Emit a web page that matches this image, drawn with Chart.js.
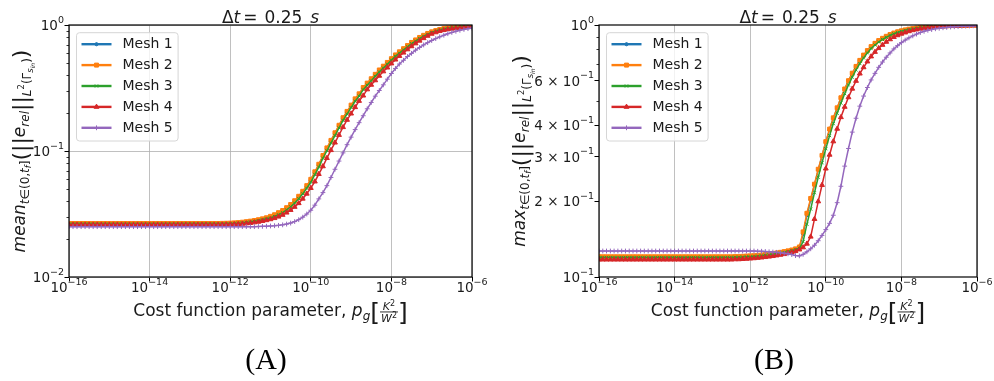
<!DOCTYPE html>
<html>
<head>
<meta charset="utf-8">
<script src="https://cdn.jsdelivr.net/npm/chart.js@4.4.1/dist/chart.umd.min.js"></script>
<style>
  body { margin: 0; background: #fff; width: 994px; height: 381px; overflow: hidden; position: relative; }
  .wrap { position: absolute; top: 0; width: 497px; height: 381px; }
  .lab { position: absolute; top: 344px; width: 200px; text-align: center; font-family: "Liberation Serif"; font-size: 30px; line-height: 30px; color: #000; }
</style>
</head>
<body>
<div class="wrap" style="left:0"><canvas id="chartA"></canvas></div>
<div class="wrap" style="left:497px"><canvas id="chartB"></canvas></div>
<div class="lab" style="left:166px">(A)</div>
<div class="lab" style="left:674px">(B)</div>
<script>
// cost function parameter p_g (x), 10 points per decade
const pg = [
  1e-16, 1.26e-16, 1.58e-16, 2e-16, 2.51e-16, 3.16e-16, 3.98e-16, 5.01e-16, 6.31e-16, 7.94e-16,
  1e-15, 1.26e-15, 1.58e-15, 2e-15, 2.51e-15, 3.16e-15, 3.98e-15, 5.01e-15, 6.31e-15, 7.94e-15,
  1e-14, 1.26e-14, 1.58e-14, 2e-14, 2.51e-14, 3.16e-14, 3.98e-14, 5.01e-14, 6.31e-14, 7.94e-14,
  1e-13, 1.26e-13, 1.58e-13, 2e-13, 2.51e-13, 3.16e-13, 3.98e-13, 5.01e-13, 6.31e-13, 7.94e-13,
  1e-12, 1.26e-12, 1.58e-12, 2e-12, 2.51e-12, 3.16e-12, 3.98e-12, 5.01e-12, 6.31e-12, 7.94e-12,
  1e-11, 1.26e-11, 1.58e-11, 2e-11, 2.51e-11, 3.16e-11, 3.98e-11, 5.01e-11, 6.31e-11, 7.94e-11,
  1e-10, 1.26e-10, 1.58e-10, 2e-10, 2.51e-10, 3.16e-10, 3.98e-10, 5.01e-10, 6.31e-10, 7.94e-10,
  1e-9, 1.26e-9, 1.58e-9, 2e-9, 2.51e-9, 3.16e-9, 3.98e-9, 5.01e-9, 6.31e-9, 7.94e-9,
  1e-8, 1.26e-8, 1.58e-8, 2e-8, 2.51e-8, 3.16e-8, 3.98e-8, 5.01e-8, 6.31e-8, 7.94e-8,
  1e-7, 1.26e-7, 1.58e-7, 2e-7, 2.51e-7, 3.16e-7, 3.98e-7, 5.01e-7, 6.31e-7, 7.94e-7,
  1e-6
];

const meshNames = ['Mesh 1', 'Mesh 2', 'Mesh 3', 'Mesh 4', 'Mesh 5'];

// tick values and labels as [mantissa text, exponent]
const xTicks = [1e-16, 1e-14, 1e-12, 1e-10, 1e-8, 1e-6];
const xTickLabels = [['10', '−16'], ['10', '−14'], ['10', '−12'], ['10', '−10'], ['10', '−8'], ['10', '−6']];
const yTicksA = [0.01, 0.1, 1];
const yTickLabelsA = [['10', '−2'], ['10', '−1'], ['10', '0']];
const yMinorA = [0.02, 0.03, 0.04, 0.05, 0.06, 0.07, 0.08, 0.09, 0.2, 0.3, 0.4, 0.5, 0.6, 0.7, 0.8, 0.9];
const yTicksB = [0.1, 0.2, 0.3, 0.4, 0.6, 1];
const yTickLabelsB = [['10', '−1'], ['2 × 10', '−1'], ['3 × 10', '−1'], ['4 × 10', '−1'], ['6 × 10', '−1'], ['10', '0']];
const yMinorB = [0.5, 0.7, 0.8, 0.9];

// (A) mean over time of the relative error
const meanMesh1 = [
  0.0265, 0.0265, 0.0265, 0.0265, 0.0265, 0.0265, 0.0265, 0.0265, 0.0265, 0.0265,
  0.0265, 0.0265, 0.0265, 0.0265, 0.0265, 0.0265, 0.0265, 0.0265, 0.0265, 0.0265,
  0.0265, 0.0265, 0.0265, 0.0265, 0.0265, 0.0265, 0.0265, 0.0265, 0.0265, 0.0265,
  0.0265, 0.0265, 0.0265, 0.0265, 0.0265, 0.0265, 0.0265, 0.0265, 0.02655, 0.02661,
  0.02667, 0.02679, 0.02692, 0.0271, 0.02735, 0.02761, 0.02793, 0.02831, 0.02877, 0.02931,
  0.03, 0.0309, 0.032, 0.0333, 0.0351, 0.0372, 0.0398, 0.0432, 0.0473, 0.0525,
  0.0589, 0.0676, 0.0776, 0.0912, 0.1047, 0.1202, 0.138, 0.1585, 0.182, 0.2042,
  0.2291, 0.257, 0.2818, 0.3162, 0.3428, 0.3715, 0.4027, 0.4365, 0.4677, 0.5012,
  0.537, 0.5754, 0.6095, 0.6457, 0.6839, 0.7244, 0.7586, 0.7943, 0.826, 0.8551,
  0.881, 0.9016, 0.9204, 0.9354, 0.9462, 0.955, 0.9616, 0.9661, 0.9705, 0.9727,
  0.975
];
const meanMesh2 = [
  0.0266, 0.0266, 0.0266, 0.0266, 0.0266, 0.0266, 0.0266, 0.0266, 0.0266, 0.0266,
  0.0266, 0.0266, 0.0266, 0.0266, 0.0266, 0.0266, 0.0266, 0.0266, 0.0266, 0.0266,
  0.0266, 0.0266, 0.0266, 0.0266, 0.0266, 0.0266, 0.0266, 0.0266, 0.0266, 0.0266,
  0.0266, 0.0266, 0.0266, 0.0266, 0.0266, 0.0266, 0.0266, 0.0266, 0.02665, 0.0267,
  0.02677, 0.02689, 0.02703, 0.02722, 0.02748, 0.02775, 0.02808, 0.02848, 0.02896, 0.02953,
  0.0303, 0.0312, 0.0324, 0.0337, 0.0355, 0.0376, 0.0403, 0.0437, 0.0479, 0.0531,
  0.0596, 0.0684, 0.0785, 0.0921, 0.1058, 0.1214, 0.1395, 0.16, 0.1838, 0.2062,
  0.2313, 0.2594, 0.2844, 0.319, 0.3458, 0.3746, 0.4059, 0.4398, 0.4711, 0.5046,
  0.5404, 0.5788, 0.6128, 0.6489, 0.6869, 0.7272, 0.7612, 0.7967, 0.8281, 0.8569,
  0.8826, 0.9029, 0.9214, 0.9362, 0.9468, 0.9555, 0.962, 0.9664, 0.9707, 0.9729,
  0.9752
];
const meanMesh3 = [
  0.0263, 0.0263, 0.0263, 0.0263, 0.0263, 0.0263, 0.0263, 0.0263, 0.0263, 0.0263,
  0.0263, 0.0263, 0.0263, 0.0263, 0.0263, 0.0263, 0.0263, 0.0263, 0.0263, 0.0263,
  0.0263, 0.0263, 0.0263, 0.0263, 0.0263, 0.0263, 0.0263, 0.0263, 0.0263, 0.0263,
  0.0263, 0.0263, 0.0263, 0.0263, 0.0263, 0.0263, 0.0263, 0.0263, 0.02634, 0.02638,
  0.02648, 0.02659, 0.02672, 0.02688, 0.0271, 0.02735, 0.02764, 0.02799, 0.02843, 0.02894,
  0.0294, 0.0302, 0.0312, 0.0324, 0.0341, 0.0361, 0.0386, 0.0418, 0.0457, 0.0506,
  0.0565, 0.0649, 0.0745, 0.0876, 0.1005, 0.1154, 0.1325, 0.1522, 0.1747, 0.196,
  0.2211, 0.2483, 0.2727, 0.3065, 0.3327, 0.3607, 0.3913, 0.4245, 0.4555, 0.4887,
  0.5263, 0.5643, 0.598, 0.6339, 0.6719, 0.7121, 0.7458, 0.7816, 0.8136, 0.8431,
  0.8722, 0.8935, 0.913, 0.9289, 0.9405, 0.9503, 0.9574, 0.9625, 0.9675, 0.9702,
  0.9728
];
const meanMesh4 = [
  0.026, 0.026, 0.026, 0.026, 0.026, 0.026, 0.026, 0.026, 0.026, 0.026,
  0.026, 0.026, 0.026, 0.026, 0.026, 0.026, 0.026, 0.026, 0.026, 0.026,
  0.026, 0.026, 0.026, 0.026, 0.026, 0.026, 0.026, 0.026, 0.026, 0.026,
  0.026, 0.026, 0.026, 0.026, 0.026, 0.026, 0.026, 0.026, 0.02603, 0.02607,
  0.02612, 0.02618, 0.02628, 0.0264, 0.0266, 0.0268, 0.0271, 0.0274, 0.0278, 0.0282,
  0.0287, 0.0293, 0.0301, 0.0311, 0.0324, 0.034, 0.036, 0.0385, 0.0418, 0.0458,
  0.0508, 0.0572, 0.0656, 0.0755, 0.0878, 0.1015, 0.1165, 0.134, 0.1545, 0.1765,
  0.198, 0.2225, 0.2495, 0.275, 0.308, 0.335, 0.3635, 0.395, 0.428, 0.459,
  0.495, 0.531, 0.567, 0.603, 0.64, 0.677, 0.714, 0.75, 0.785, 0.82,
  0.851, 0.874, 0.894, 0.91, 0.923, 0.934, 0.943, 0.95, 0.956, 0.961,
  0.966
];
const meanMesh5 = [
  0.0251, 0.0251, 0.0251, 0.0251, 0.0251, 0.0251, 0.0251, 0.0251, 0.0251, 0.0251,
  0.0251, 0.0251, 0.0251, 0.0251, 0.0251, 0.0251, 0.0251, 0.0251, 0.0251, 0.0251,
  0.0251, 0.0251, 0.0251, 0.0251, 0.0251, 0.0251, 0.0251, 0.0251, 0.0251, 0.0251,
  0.0251, 0.0251, 0.0251, 0.0251, 0.0251, 0.0251, 0.0251, 0.0251, 0.0251, 0.0251,
  0.0251, 0.0251, 0.0251, 0.0251, 0.0251, 0.0251, 0.0251, 0.02518, 0.02524, 0.0253,
  0.02541, 0.02553, 0.0257, 0.02594, 0.0263, 0.02679, 0.02754, 0.02851, 0.02985, 0.03162,
  0.03388, 0.03715, 0.04169, 0.04677, 0.05309, 0.06166, 0.07161, 0.08318, 0.09661, 0.1122,
  0.1288, 0.1479, 0.1679, 0.1905, 0.2163, 0.2427, 0.2723, 0.302, 0.335, 0.3715,
  0.4121, 0.4519, 0.4898, 0.5248, 0.5623, 0.5957, 0.631, 0.6637, 0.695, 0.7244,
  0.7534, 0.7798, 0.8054, 0.8299, 0.8531, 0.873, 0.8913, 0.9078, 0.9226, 0.9354,
  0.9462
];

// (B) max over time of the relative error
const maxMesh1 = [
  0.12, 0.12, 0.12, 0.12, 0.12, 0.12, 0.12, 0.12, 0.12, 0.12,
  0.12, 0.12, 0.12, 0.12, 0.12, 0.12, 0.12, 0.12, 0.12, 0.12,
  0.12, 0.12, 0.12, 0.12, 0.12, 0.12, 0.12, 0.12, 0.12, 0.12,
  0.12, 0.12, 0.12, 0.12, 0.12, 0.12, 0.1202, 0.1202, 0.1205, 0.1208,
  0.121, 0.1212, 0.1216, 0.122, 0.1225, 0.123, 0.1236, 0.1243, 0.125, 0.1258,
  0.1267, 0.1277, 0.1289, 0.131, 0.148, 0.176, 0.2025, 0.2317, 0.2661, 0.302,
  0.3428, 0.3846, 0.4266, 0.4677, 0.5129, 0.5559, 0.5998, 0.6427, 0.6839, 0.7228,
  0.7586, 0.7907, 0.8204, 0.8453, 0.867, 0.8851, 0.9016, 0.9162, 0.929, 0.9397,
  0.9484, 0.9561, 0.9627, 0.9683, 0.9728, 0.9772, 0.9806, 0.984, 0.9863, 0.9886,
  0.9908, 0.992, 0.9931, 0.9943, 0.9954, 0.9959, 0.9966, 0.9972, 0.9977, 0.9982,
  0.9986
];
const maxMesh2 = [
  0.1203, 0.1203, 0.1203, 0.1203, 0.1203, 0.1203, 0.1203, 0.1203, 0.1203, 0.1203,
  0.1203, 0.1203, 0.1203, 0.1203, 0.1203, 0.1203, 0.1203, 0.1203, 0.1203, 0.1203,
  0.1203, 0.1203, 0.1203, 0.1203, 0.1203, 0.1203, 0.1203, 0.1203, 0.1203, 0.1203,
  0.1203, 0.1203, 0.1203, 0.1203, 0.1203, 0.1203, 0.1205, 0.1205, 0.1208, 0.1211,
  0.1213, 0.1215, 0.1219, 0.1223, 0.1228, 0.1233, 0.1239, 0.1246, 0.1253, 0.1261,
  0.127, 0.128, 0.1293, 0.1316, 0.151, 0.179, 0.205, 0.2335, 0.2677, 0.3037,
  0.3445, 0.3863, 0.4283, 0.4693, 0.5145, 0.5574, 0.6012, 0.644, 0.685, 0.7238,
  0.7595, 0.7915, 0.821, 0.8458, 0.8674, 0.8855, 0.9019, 0.9165, 0.9292, 0.9399,
  0.9486, 0.9562, 0.9628, 0.9684, 0.9729, 0.9773, 0.9807, 0.984, 0.9863, 0.9886,
  0.9908, 0.992, 0.9931, 0.9943, 0.9954, 0.9959, 0.9966, 0.9972, 0.9977, 0.9982,
  0.9986
];
const maxMesh3 = [
  0.1195, 0.1195, 0.1195, 0.1195, 0.1195, 0.1195, 0.1195, 0.1195, 0.1195, 0.1195,
  0.1195, 0.1195, 0.1195, 0.1195, 0.1195, 0.1195, 0.1195, 0.1195, 0.1195, 0.1195,
  0.1195, 0.1195, 0.1195, 0.1195, 0.1195, 0.1195, 0.1195, 0.1195, 0.1195, 0.1195,
  0.1195, 0.1195, 0.1195, 0.1195, 0.1195, 0.1195, 0.1197, 0.1198, 0.12, 0.1202,
  0.1203, 0.1206, 0.121, 0.1214, 0.1219, 0.1224, 0.123, 0.1237, 0.1244, 0.1252,
  0.1261, 0.1271, 0.1283, 0.13, 0.138, 0.162, 0.186, 0.216, 0.249, 0.284,
  0.323, 0.364, 0.406, 0.447, 0.49, 0.534, 0.578, 0.621, 0.663, 0.703,
  0.74, 0.775, 0.806, 0.833, 0.856, 0.876, 0.893, 0.909, 0.923, 0.934,
  0.944, 0.952, 0.959, 0.965, 0.97, 0.975, 0.979, 0.982, 0.985, 0.987,
  0.989, 0.9905, 0.992, 0.9932, 0.9943, 0.9952, 0.996, 0.9967, 0.9973, 0.9978,
  0.9983
];
const maxMesh4 = [
  0.1172, 0.1172, 0.1172, 0.1172, 0.1172, 0.1172, 0.1172, 0.1172, 0.1172, 0.1172,
  0.1172, 0.1172, 0.1172, 0.1172, 0.1172, 0.1172, 0.1172, 0.1172, 0.1172, 0.1172,
  0.1172, 0.1172, 0.1172, 0.1172, 0.1172, 0.1172, 0.1172, 0.1172, 0.1172, 0.1172,
  0.1172, 0.1172, 0.1172, 0.1172, 0.1172, 0.1172, 0.1175, 0.1175, 0.1178, 0.118,
  0.1183, 0.1186, 0.119, 0.1194, 0.1199, 0.1204, 0.121, 0.1217, 0.1224, 0.1232,
  0.1245, 0.1255, 0.1266, 0.1285, 0.131, 0.1355, 0.1445, 0.1698, 0.1995, 0.2317,
  0.2692, 0.3055, 0.3451, 0.3873, 0.4305, 0.4732, 0.5164, 0.5585, 0.5998, 0.6412,
  0.6792, 0.7161, 0.7499, 0.7816, 0.8091, 0.8337, 0.857, 0.877, 0.8954, 0.9099,
  0.9226, 0.9333, 0.9441, 0.9528, 0.9594, 0.9661, 0.9705, 0.975, 0.9795, 0.9824,
  0.9849, 0.9872, 0.989, 0.9906, 0.992, 0.9931, 0.9943, 0.9952, 0.9959, 0.9966,
  0.9972
];
const maxMesh5 = [
  0.1268, 0.1268, 0.1268, 0.1268, 0.1268, 0.1268, 0.1268, 0.1268, 0.1268, 0.1268,
  0.1268, 0.1268, 0.1268, 0.1268, 0.1268, 0.1268, 0.1268, 0.1268, 0.1268, 0.1268,
  0.1268, 0.1268, 0.1268, 0.1268, 0.1268, 0.1268, 0.1268, 0.1268, 0.1268, 0.1268,
  0.1268, 0.1268, 0.1268, 0.1268, 0.1268, 0.1268, 0.1268, 0.1268, 0.1268, 0.1268,
  0.1268, 0.1268, 0.1265, 0.1265, 0.1262, 0.1259, 0.1256, 0.1253, 0.1247, 0.1242,
  0.1236, 0.1227, 0.1216, 0.1213, 0.123, 0.1259, 0.1294, 0.1337, 0.1393, 0.1462,
  0.1542, 0.1633, 0.1758, 0.1972, 0.2291, 0.2754, 0.3236, 0.3758, 0.4266, 0.4764,
  0.5224, 0.5649, 0.6053, 0.6427, 0.6792, 0.7129, 0.7447, 0.7745, 0.8035, 0.8279,
  0.8511, 0.871, 0.8892, 0.9057, 0.9205, 0.9333, 0.9441, 0.9528, 0.9594, 0.9661,
  0.9705, 0.975, 0.9784, 0.9818, 0.984, 0.9863, 0.9886, 0.9902, 0.9915, 0.9927,
  0.9938
];

const colors = ['#1f77b4', '#ff7f0e', '#2ca02c', '#d62728', '#9467bd'];
const markers = ['circle', 'rect', 'crossRot', 'triangle', 'cross'];
const markerSize = [1.6, 2.8, 2.2, 2.8, 2.4];
const FONT = '"DejaVu Sans"';
const INK = '#1a1a1a';

function font(p) {
  return (p.i ? 'italic ' : '') + p.s + 'px ' + FONT;
}

// draws a run of text pieces (sub/superscripts, fractions); align 'center' or 'right'
function rich(ctx, parts, x, y, align) {
  let total = 0;
  parts.forEach(p => {
    if (p.gap) { p.w = p.gap; }
    else if (p.num) {
      let wn = 0, wd = 0;
      p.num.forEach(q => { ctx.font = font(q); q.w = ctx.measureText(q.t).width; wn += q.w; });
      p.den.forEach(q => { ctx.font = font(q); q.w = ctx.measureText(q.t).width; wd += q.w; });
      p.wn = wn; p.wd = wd; p.w = Math.max(wn, wd) + 2;
    } else { ctx.font = font(p); p.w = ctx.measureText(p.t).width; }
    total += p.w;
  });
  let cx = align === 'right' ? x - total : x - total / 2;
  ctx.textBaseline = 'alphabetic';
  ctx.textAlign = 'left';
  parts.forEach(p => {
    if (p.num) {
      const by = y + p.bar;
      ctx.fillRect(cx, by - 0.5, p.w, 0.9);
      let nx = cx + (p.w - p.wn) / 2;
      p.num.forEach(q => { ctx.font = font(q); ctx.fillText(q.t, nx, by - 2 + (q.dy || 0)); nx += q.w; });
      let dx = cx + (p.w - p.wd) / 2;
      p.den.forEach(q => { ctx.font = font(q); ctx.fillText(q.t, dx, by + 9.5 + (q.dy || 0)); dx += q.w; });
    } else if (!p.gap) {
      ctx.font = font(p);
      ctx.fillText(p.t, cx, y + (p.dy || 0));
    }
    cx += p.w;
  });
}

function powParts(lab) {
  return [{t: lab[0], s: 13.5}, {t: lab[1], s: 9.5, dy: -7.5}];
}

function yTitle(op) {
  return [
    {t: op, s: 17, i: 1},
    {t: 't', s: 12, i: 1, dy: 4}, {t: '∈(0,', s: 12, dy: 4}, {t: 't', s: 12, i: 1, dy: 4},
    {t: 'f', s: 8.5, i: 1, dy: 6}, {t: ']', s: 12, dy: 4},
    {t: '(', s: 22, dy: 3}, {t: '||', s: 22, dy: 3},
    {t: 'e', s: 17, i: 1}, {t: 'rel', s: 12, i: 1, dy: 4},
    {t: '||', s: 22, dy: 3},
    {t: 'L', s: 12, i: 1, dy: 6}, {t: '2', s: 8.5, dy: -1}, {t: '(Γ', s: 12, dy: 6},
    {t: 's', s: 8.5, i: 1, dy: 8}, {t: 'in', s: 6, i: 1, dy: 10}, {t: ')', s: 12, dy: 6},
    {t: ')', s: 22, dy: 3}
  ];
}

const xTitle = [
  {t: 'Cost function parameter, ', s: 17}, {t: 'p', s: 17, i: 1}, {t: 'g', s: 12, i: 1, dy: 4},
  {t: '[', s: 25, dy: 4.5},
  {num: [{t: 'K', s: 11, i: 1}, {t: '2', s: 8, dy: -4}], den: [{t: 'W', s: 11, i: 1}, {t: '2', s: 8, dy: -4}], bar: -4},
  {t: ']', s: 25, dy: 4.5}
];

const title = [
  {t: 'Δ', s: 17}, {t: 't', s: 17, i: 1}, {gap: 3}, {t: '=', s: 17}, {gap: 7},
  {t: '0.25', s: 17}, {gap: 8}, {t: 's', s: 17, i: 1}
];

function decoPlugin(yLabelParts, yLabelX, yTicks, yLabels, yMinor) {
  return {
    id: 'deco',
    afterDraw(chart) {
      const ctx = chart.ctx;
      const a = chart.chartArea;
      const xs = chart.scales.x;
      const ys = chart.scales.y;
      ctx.save();
      // minor y ticks
      ctx.strokeStyle = '#000';
      ctx.lineWidth = 0.8;
      yMinor.forEach(v => {
        const py = Math.round(ys.getPixelForValue(v)) + 0.5;
        ctx.beginPath(); ctx.moveTo(a.left - 2.5, py); ctx.lineTo(a.left, py); ctx.stroke();
      });
      // frame
      ctx.lineWidth = 1.2;
      ctx.strokeRect(a.left, a.top, a.right - a.left, a.bottom - a.top);
      ctx.fillStyle = INK;
      // tick labels with real superscripts
      xTicks.forEach((v, i) => rich(ctx, powParts(xTickLabels[i]), xs.getPixelForValue(v), a.bottom + 15, 'center'));
      yTicks.forEach((v, i) => rich(ctx, powParts(yLabels[i]), a.left - 5, ys.getPixelForValue(v) + 5, 'right'));
      // title and axis titles
      rich(ctx, title, (a.left + a.right) / 2, 22.5, 'center');
      rich(ctx, xTitle, (a.left + a.right) / 2, 316, 'center');
      ctx.save();
      ctx.translate(yLabelX, (a.top + a.bottom) / 2);
      ctx.rotate(-Math.PI / 2);
      rich(ctx, yLabelParts, 0, 0, 'center');
      ctx.restore();
      // legend
      const lx = a.left + 7.5, ly = a.top + 7.7, lw = 101.6, lh = 108.3;
      ctx.fillStyle = 'rgba(255,255,255,0.8)';
      ctx.strokeStyle = '#d6d6d6';
      ctx.lineWidth = 1;
      ctx.beginPath();
      ctx.roundRect(lx, ly, lw, lh, 3);
      ctx.fill(); ctx.stroke();
      chart.data.datasets.forEach((ds, i) => {
        const ry = ly + 11.5 + i * 20.9;
        ctx.strokeStyle = ds.borderColor;
        ctx.lineWidth = 2.4;
        ctx.beginPath(); ctx.moveTo(lx + 5, ry); ctx.lineTo(lx + 35, ry); ctx.stroke();
        ctx.fillStyle = ds.borderColor;
        if (Chart.helpers && Chart.helpers.drawPoint) {
          ctx.lineWidth = 1;
          Chart.helpers.drawPoint(ctx, {pointStyle: ds.pointStyle, radius: ds.pointRadius, rotation: 0, borderWidth: 1}, lx + 20, ry);
        }
        ctx.fillStyle = INK;
        ctx.font = '14px ' + FONT;
        ctx.textBaseline = 'middle';
        ctx.textAlign = 'left';
        ctx.fillText(ds.label, lx + 46, ry + 0.5);
      });
      ctx.restore();
    }
  };
}

function datasets(series) {
  return series.map((s, i) => ({
    label: meshNames[i],
    data: pg.map((x, k) => ({x: x, y: s[k]})),
    borderColor: colors[i],
    backgroundColor: colors[i],
    borderWidth: 1.5,
    pointStyle: markers[i],
    pointRadius: markerSize[i],
    pointBorderWidth: 1,
    tension: 0,
    order: 4 - i
  }));
}

function build(id, series, yMin, yTicks, yLabels, yMinor, yGridColor, yWidth, padRight, op, yLabelX) {
  return new Chart(document.getElementById(id), {
    type: 'line',
    data: {datasets: datasets(series)},
    options: {
      responsive: true,
      maintainAspectRatio: false,
      animation: false,
      events: [],
      layout: {padding: {left: 0, right: padRight, top: 25, bottom: 0}},
      plugins: {legend: {display: false}, tooltip: {enabled: false}, title: {display: false}},
      scales: {
        x: {
          type: 'logarithmic',
          min: 1e-16, max: 1e-6,
          afterBuildTicks: s => { s.ticks = xTicks.map(v => ({value: v})); },
          afterFit: s => { s.height = 104; },
          ticks: {display: false, autoSkip: false, maxRotation: 0},
          grid: {color: '#b0b0b0', lineWidth: 0.8, tickLength: 4.5, tickColor: '#000', tickWidth: 1},
          border: {display: false}
        },
        y: {
          type: 'logarithmic',
          min: yMin, max: 1,
          afterBuildTicks: s => { s.ticks = yTicks.map(v => ({value: v})); },
          afterFit: s => { s.width = yWidth; },
          ticks: {display: false, autoSkip: false},
          grid: {color: yGridColor, lineWidth: 0.8, tickLength: 4.5, tickColor: '#000', tickWidth: 1},
          border: {display: false}
        }
      }
    },
    plugins: [decoPlugin(yTitle(op), yLabelX, yTicks, yLabels, yMinor)]
  });
}

build('chartA', [meanMesh1, meanMesh2, meanMesh3, meanMesh4, meanMesh5], 0.01,
  yTicksA, yTickLabelsA, yMinorA, '#b0b0b0', 69, 25, 'mean', 25);
build('chartB', [maxMesh1, maxMesh2, maxMesh3, maxMesh4, maxMesh5], 0.1,
  yTicksB, yTickLabelsB, yMinorB, 'rgba(0,0,0,0)', 102, 17, 'max', 28);
</script>
</body>
</html>
